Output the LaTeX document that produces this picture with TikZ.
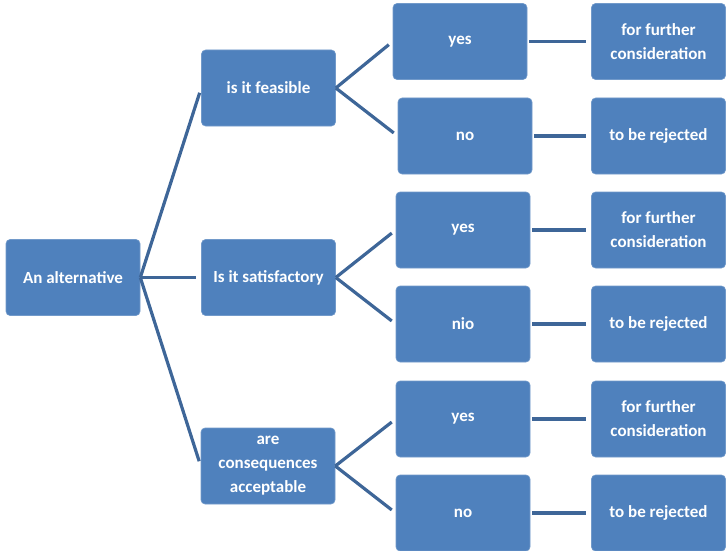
\documentclass[tikz,border=0pt]{standalone}
\usepackage{fontspec}
\setmainfont{Carlito}
\definecolor{boxblue}{RGB}{79,129,189}
\definecolor{lineblue}{RGB}{62,102,152}
\begin{document}
\begin{tikzpicture}[x=1pt,y=-1pt,
  box/.style={draw=boxblue!80!white,line width=0.6pt,fill=boxblue,rounded corners=4pt,
    minimum width=134pt,minimum height=76pt,text=white,align=center,
    font=\bfseries\fontsize{17}{24}\selectfont,inner sep=2pt},
  conn/.style={draw=lineblue,line width=3.2pt,shorten >=5pt}]
\useasboundingbox (0,0) rectangle (726,551);
\node[box] (root) at (73,277.5) {An alternative};
\node[box] (a1) at (268.5,88) {is it feasible};
\node[box] (a2) at (268.5,277.5) {Is it satisfactory};
\node[box] (a3) at (268,466) {are\\consequences\\acceptable};
\node[box] (y1) at (460,41.5) {yes};
\node[box] (n1) at (465,136) {no};
\node[box] (y2) at (463,230) {yes};
\node[box] (n2) at (463,324) {nio};
\node[box] (y3) at (463,419) {yes};
\node[box] (n3) at (463,513) {no};
\node[box] (f1) at (658.5,41.5) {for further\\consideration};
\node[box] (r1) at (658.5,136) {to be rejected};
\node[box] (f2) at (658.5,230) {for further\\consideration};
\node[box] (r2) at (658.5,324) {to be rejected};
\node[box] (f3) at (658.5,419) {for further\\consideration};
\node[box] (r3) at (658.5,513) {to be rejected};
\foreach \p/\c in {root/a1,root/a2,root/a3,a1/y1,a1/n1,a2/y2,a2/n2,a3/y3,a3/n3}
  \draw[conn] (\p.east) -- (\c.west);
\foreach \p/\c in {y1/f1,n1/r1,y2/f2,n2/r2,y3/f3,n3/r3}
  \draw[conn,shorten <=2pt] (\p.east) -- (\c.west);
\end{tikzpicture}
\end{document}
